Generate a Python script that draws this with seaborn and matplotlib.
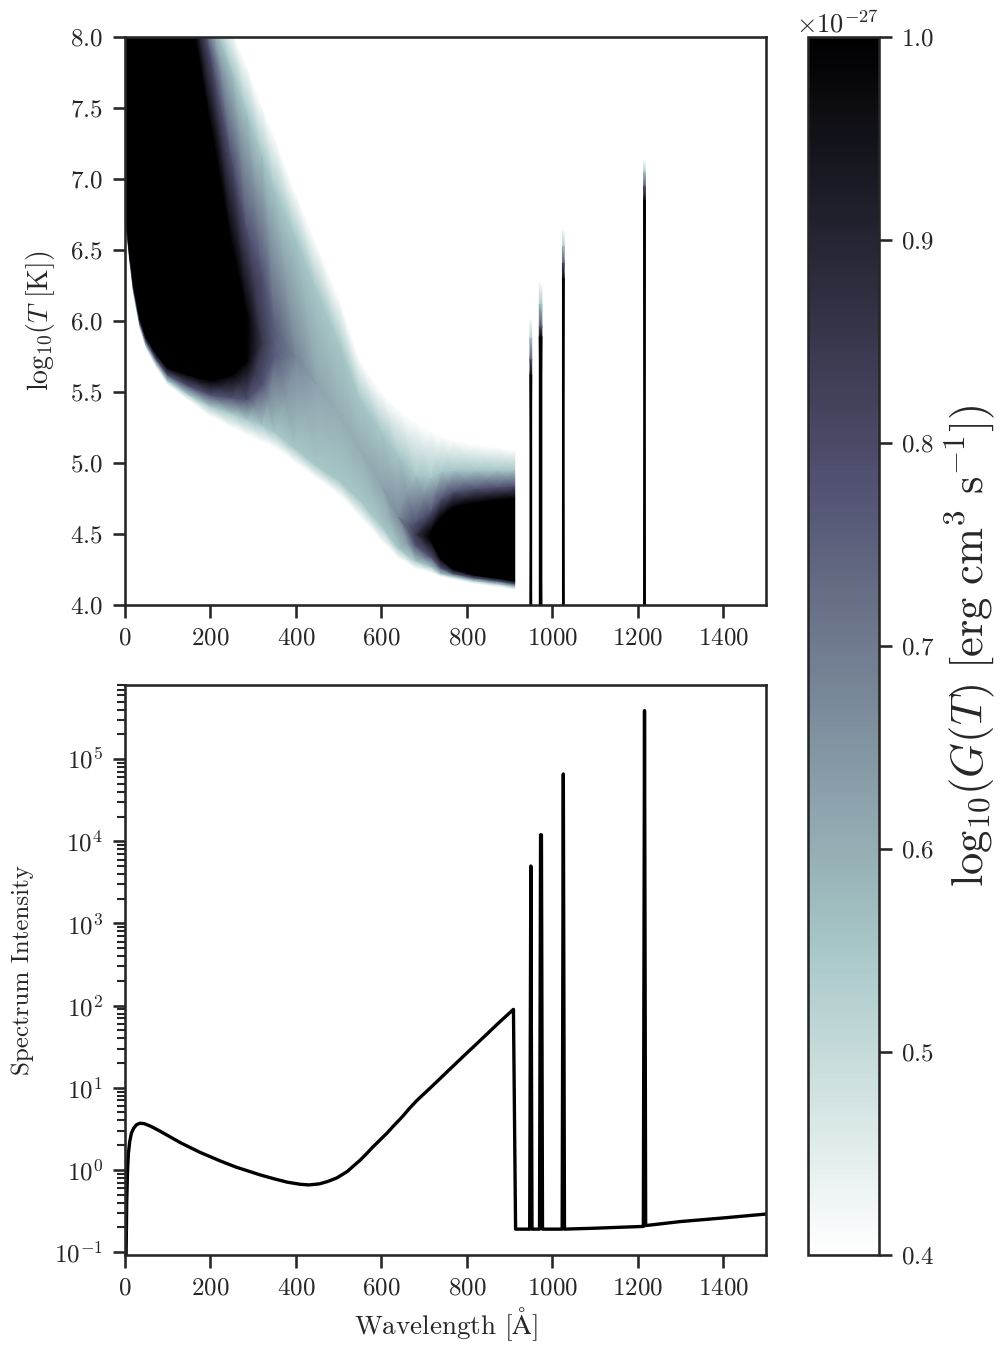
import numpy as np
import matplotlib
matplotlib.use("Agg")
import matplotlib.pyplot as plt
import seaborn as sns

# ---------------- data ----------------
# Heat map: G(T, wavelength) in units of 1e-27 erg cm^3 s^-1, described column by column
# by the log10 T positions where G crosses the levels 0.40, 0.55, 0.78 and 1.00
# (lower side "lo", upper side "hi") and by the column's peak value.
wl_cols = [0, 4, 12, 20, 35, 50, 75, 100, 150, 200, 250, 285, 320, 350, 400,
           450, 500, 550, 600, 640, 680, 715, 740, 770, 820, 870, 912]
peak_G = [1, 1, 1, 1, 1, 1, 1, 1, 1, 1, 1, 1, 0.86, 0.76, 0.68,
          0.62, 0.60, 0.60, 0.62, 0.67, 0.85, 1, 1, 1, 1, 1, 1]
logT_lo040 = [6.74, 6.62, 6.38, 6.18, 5.94, 5.80, 5.66, 5.55, 5.44, 5.33, 5.25, 5.20, 5.15, 5.11, 5.00,
              4.89, 4.78, 4.62, 4.45, 4.33, 4.26, 4.23, 4.20, 4.18, 4.15, 4.13, 4.11]
logT_lo055 = [6.75, 6.63, 6.40, 6.20, 5.96, 5.82, 5.69, 5.58, 5.48, 5.40, 5.35, 5.31, 5.27, 5.22, 5.10,
              4.98, 4.88, 4.74, 4.56, 4.40, 4.31, 4.27, 4.22, 4.20, 4.17, 4.15, 4.13]
logT_lo078 = [6.76, 6.65, 6.42, 6.22, 5.98, 5.85, 5.72, 5.62, 5.54, 5.48, 5.46, 5.45, 5.55, 5.75, 5.75,
              5.55, 5.35, 5.10, 4.85, 4.62, 4.42, 4.34, 4.26, 4.22, 4.19, 4.17, 4.15]
logT_lo100 = [6.78, 6.67, 6.44, 6.25, 6.01, 5.88, 5.76, 5.67, 5.62, 5.58, 5.62, 5.72, 5.85, 5.85, 5.75,
              5.55, 5.35, 5.10, 4.85, 4.62, 4.50, 4.46, 4.32, 4.25, 4.21, 4.19, 4.17]
logT_hi100 = [11.0, 10.9, 10.8, 10.6, 10.4, 10.1, 9.7, 9.2, 8.24, 7.39, 6.53, 6.05, 5.85, 5.85, 5.75,
              5.55, 5.35, 5.10, 4.85, 4.62, 4.50, 4.52, 4.62, 4.69, 4.72, 4.74, 4.75]
logT_hi078 = [11.5, 11.4, 11.3, 11.1, 10.9, 10.6, 10.2, 9.7, 8.60, 7.88, 7.15, 6.65, 6.35, 5.95, 5.75,
              5.55, 5.35, 5.10, 4.85, 4.62, 4.58, 4.66, 4.75, 4.80, 4.82, 4.83, 4.84]
logT_hi055 = [12.0, 11.9, 11.8, 11.6, 11.4, 11.1, 10.7, 10.2, 9.0, 8.18, 7.77, 7.47, 7.18, 6.93, 6.58,
              6.20, 5.85, 5.45, 5.22, 5.05, 4.92, 4.90, 4.94, 4.95, 4.95, 4.95, 4.95]
logT_hi040 = [12.5, 12.4, 12.3, 12.1, 11.9, 11.6, 11.2, 10.7, 9.2, 8.43, 8.05, 7.80, 7.52, 7.30, 6.90,
              6.53, 6.17, 5.72, 5.50, 5.38, 5.29, 5.23, 5.19, 5.16, 5.13, 5.11, 5.09]
G_levels = [0.0, 0.40, 0.55, 0.78, 1.00, 1.00, 0.78, 0.55, 0.40, 0.0]

# Lyman lines in the heat map
line_wl = [949.7, 972.5, 1025.7, 1215.7]
line_logT_black = [5.62, 5.89, 6.30, 6.85]
line_logT_078 = [5.73, 5.96, 6.41, 6.95]
line_logT_055 = [5.88, 6.12, 6.53, 7.05]
line_logT_040 = [6.01, 6.27, 6.64, 7.13]

# Spectrum (bottom panel)
spec_wl = [0.5, 2, 4, 6, 8, 11, 15, 20, 27, 35, 45, 60, 80, 100, 130, 175, 222, 260, 292, 316,
           350, 380, 410, 430, 455, 475, 496, 520, 535, 550, 565, 580, 597, 613, 630, 650, 665, 683,
           720, 760, 800, 840, 875, 909, 914,
           947, 949.7, 952.4, 970, 972.5, 974.5, 977, 1023, 1025.7, 1028.4,
           1100, 1213, 1215.7, 1218.4, 1300, 1400, 1500]
spec_I = [0.001, 0.05, 0.4, 1.0, 1.6, 2.2, 2.8, 3.2, 3.55, 3.7, 3.65, 3.4, 3.0, 2.62, 2.14, 1.64, 1.29, 1.08, 0.955, 0.87,
          0.776, 0.708, 0.668, 0.656, 0.676, 0.724, 0.80, 0.955, 1.12, 1.31, 1.57, 1.9, 2.32, 2.8, 3.5, 4.5, 5.56, 7.0,
          10.6, 16.8, 26.5, 41.6, 62.0, 90.0, 0.19,
          0.19, 5.0e3, 0.19, 0.19, 1.2e4, 1.2e4, 0.19, 0.19, 6.6e4, 0.19,
          0.195, 0.205, 3.9e5, 0.21, 0.235, 0.26, 0.29]
spec_yticks = [1e-1, 1e0, 1e1, 1e2, 1e3, 1e4, 1e5]
wl_ticks = [0, 200, 400, 600, 800, 1000, 1200, 1400]
cb_ticks = [0.4, 0.5, 0.6, 0.7, 0.8, 0.9, 1.0]

G_unit = 1e-27

# ---------------- style ----------------
sns.set_theme(context="talk", style="ticks")
plt.rcParams["font.family"] = "serif"
plt.rcParams["font.serif"] = ["cmr10", "DejaVu Serif"]
plt.rcParams["mathtext.fontset"] = "cm"
plt.rcParams["axes.formatter.use_mathtext"] = True
plt.rcParams["xtick.labelsize"] = 18
plt.rcParams["ytick.labelsize"] = 18
plt.rcParams["axes.labelsize"] = 18
plt.rcParams["xtick.major.pad"] = 7
plt.rcParams["ytick.major.pad"] = 7

fig = plt.figure(figsize=(10.01, 13.46), dpi=100)
W, H = 1001.0, 1346.0
ax1 = fig.add_axes([125 / W, 1 - 605 / H, 641 / W, 568 / H])
ax2 = fig.add_axes([125 / W, 1 - 1255 / H, 641 / W, 570 / H])
cax = fig.add_axes([808 / W, 1 - 1255 / H, 71 / W, 1218 / H])

cmap = "bone_r"
vmin, vmax = 0.4 * G_unit, 1.0 * G_unit

# ---------------- top panel: heat map ----------------
n_rows = len(G_levels)
knots = np.array([[3.5] * len(wl_cols), logT_lo040, logT_lo055, logT_lo078, logT_lo100,
                  logT_hi100, logT_hi078, logT_hi055, logT_hi040, [13.0] * len(wl_cols)])
Xg = np.tile(np.asarray(wl_cols, float), (n_rows, 1))
Cg = np.minimum(np.asarray(G_levels)[:, None], np.asarray(peak_G)[None, :]) * G_unit
mesh = ax1.pcolormesh(Xg, knots, Cg, shading="gouraud", cmap=cmap, vmin=vmin, vmax=vmax)

line_halfwidth = [2.0, 3.0, 2.0, 2.0]
for wl, hw, tb, t78, t55, t40 in zip(line_wl, line_halfwidth, line_logT_black,
                                     line_logT_078, line_logT_055, line_logT_040):
    Xl = np.array([[wl - hw, wl + hw]] * 5)
    Yl = np.array([[y, y] for y in [3.9, tb, t78, t55, t40]])
    Cl = np.array([[c, c] for c in [1.0, 1.0, 0.78, 0.55, 0.40]]) * G_unit
    ax1.pcolormesh(Xl, Yl, Cl, shading="gouraud", cmap=cmap, vmin=vmin, vmax=vmax)

ax1.set_xlim(0, 1500)
ax1.set_ylim(4, 8)
ax1.set_xticks(wl_ticks)
ax1.set_yticks(np.arange(4.0, 8.01, 0.5))
ax1.set_ylabel(r"$\mathrm{log}_{10}(T\ [\mathrm{K}])$", fontsize=20, labelpad=9)

# ---------------- bottom panel: spectrum ----------------
ax2.set_yscale("log")
sns.lineplot(x=spec_wl, y=spec_I, ax=ax2, color="black", linewidth=2.4,
             estimator=None, sort=False)
ax2.set_xlim(0, 1500)
ax2.set_ylim(0.092, 8e5)
ax2.set_yticks(spec_yticks)
ax2.set_xticks(wl_ticks)
ax2.set_xlabel(r"Wavelength [$\mathrm{\AA}$]", fontsize=19.5)
ax2.set_ylabel("Spectrum Intensity", labelpad=14)

# ---------------- colorbar ----------------
cb = fig.colorbar(mesh, cax=cax)
cb.set_ticks([v * G_unit for v in cb_ticks])
cb.ax.tick_params(labelsize=18)
cb.ax.yaxis.get_offset_text().set_fontsize(19)
cb.set_label(r"$\mathrm{log}_{10}(G(T)\ [\mathrm{erg\ cm^3\ s^{-1}}])$", fontsize=32, labelpad=6)

fig.savefig("out.png", dpi=100)
